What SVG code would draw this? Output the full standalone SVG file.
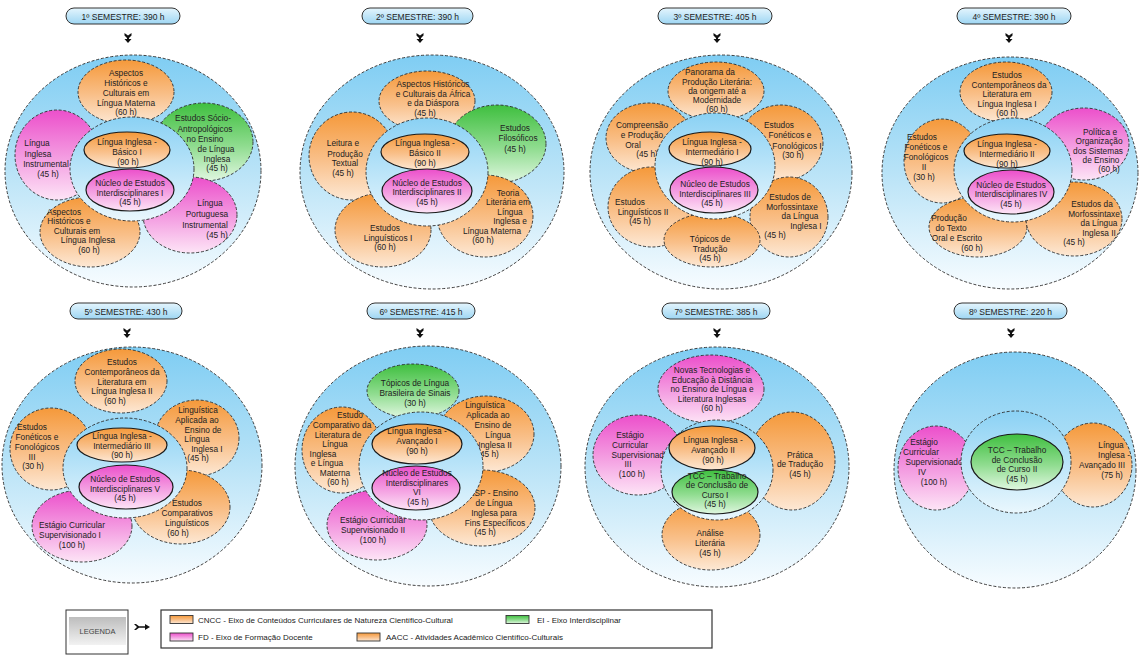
<svg xmlns="http://www.w3.org/2000/svg" xmlns:xlink="http://www.w3.org/1999/xlink" width="1139" height="655" viewBox="0 0 1139 655">
<defs>
<linearGradient id="gBlue" x1="0" y1="0" x2="0" y2="1"><stop offset="0" stop-color="#7fcdf3"/><stop offset="0.5" stop-color="#b9e3f7"/><stop offset="1" stop-color="#f7fcff"/></linearGradient>
<linearGradient id="gRing" x1="0" y1="0" x2="0" y2="1"><stop offset="0" stop-color="#8ad1f4"/><stop offset="1" stop-color="#eaf7fd"/></linearGradient>
<linearGradient id="gOr" x1="0" y1="0" x2="0" y2="1"><stop offset="0" stop-color="#f5993a"/><stop offset="0.55" stop-color="#f9c08a"/><stop offset="1" stop-color="#fde8d4"/></linearGradient>
<linearGradient id="gPk" x1="0" y1="0" x2="0" y2="1"><stop offset="0" stop-color="#ec4fcb"/><stop offset="0.55" stop-color="#f4a0e2"/><stop offset="1" stop-color="#fde4f6"/></linearGradient>
<linearGradient id="gGr" x1="0" y1="0" x2="0" y2="1"><stop offset="0" stop-color="#3fbf3f"/><stop offset="0.55" stop-color="#8fdc8f"/><stop offset="1" stop-color="#e0f7e0"/></linearGradient>
<linearGradient id="gPill" x1="0" y1="0" x2="0" y2="1"><stop offset="0" stop-color="#e4f5fd"/><stop offset="1" stop-color="#9ed6f3"/></linearGradient>
<linearGradient id="gLeg" x1="0" y1="0" x2="0" y2="1"><stop offset="0" stop-color="#bdbdbd"/><stop offset="1" stop-color="#f2f2f2"/></linearGradient>
<path id="arrDn" d="M-3.5,-5 L0,-2.5 L3.5,-5 L3.5,-2.5 L1,0 L1,1 L3.5,1 L0,5 L-3.5,1 L-1,1 L-1,0 L-3.5,-2.5 Z"/>
<path id="arrRt" d="M-8,-3 L-5,0 L-8,3 L-6,3 L-3,0.8 L3,0.8 L3,3 L8,0 L3,-3 L3,-0.8 L-3,-0.8 L-6,-3 Z"/>
</defs>
<style>
.oc{fill:url(#gBlue);stroke:#2a2a2a;stroke-width:0.9;stroke-dasharray:3 1.8}
.ring{fill:url(#gRing);stroke:#2a2a2a;stroke-width:0.9;stroke-dasharray:3 1.8}
.o{fill:url(#gOr);stroke:#2a2a2a;stroke-width:0.9;stroke-dasharray:3 1.8}
.p{fill:url(#gPk);stroke:#2a2a2a;stroke-width:0.9;stroke-dasharray:3 1.8}
.g{fill:url(#gGr);stroke:#2a2a2a;stroke-width:0.9;stroke-dasharray:3 1.8}
.io{fill:url(#gOr);stroke:#1a1a1a;stroke-width:1.2}
.ip{fill:url(#gPk);stroke:#1a1a1a;stroke-width:1.2}
.ig{fill:url(#gGr);stroke:#1a1a1a;stroke-width:1.2}
.pill{fill:url(#gPill);stroke:#333;stroke-width:1}
text{font-family:"Liberation Sans",Arial,sans-serif;fill:#222}
.t{font-size:8.3px;text-anchor:middle}
.h{font-size:8.5px;text-anchor:middle}
.l{font-size:8px}
.arr{fill:#111}
.sw{stroke:#333;stroke-width:0.9}
</style>
<rect width="1139" height="655" fill="#ffffff"/>

<g id="connectors">
<use xlink:href="#arrDn" class="arr" transform="translate(128,38)"/>
<use xlink:href="#arrDn" class="arr" transform="translate(420,38)"/>
<use xlink:href="#arrDn" class="arr" transform="translate(717,38)"/>
<use xlink:href="#arrDn" class="arr" transform="translate(1009,38)"/>
<use xlink:href="#arrDn" class="arr" transform="translate(127,333)"/>
<use xlink:href="#arrDn" class="arr" transform="translate(420,333)"/>
<use xlink:href="#arrDn" class="arr" transform="translate(717,333)"/>
<use xlink:href="#arrDn" class="arr" transform="translate(1011,333)"/>
<use xlink:href="#arrRt" class="arr" transform="translate(142,627)"/>
</g>

<!-- 1st semester -->
<g id="sem1">
<g id="s1-head"><rect class="pill" x="66" y="8" width="114" height="16" rx="8"/><text class="h" x="123" y="19.5">1º SEMESTRE: 390 h</text></g>
<ellipse id="s1-outer" class="oc" cx="133" cy="171" rx="128" ry="116"/>
<g id="s1-n1"><ellipse class="o" cx="126" cy="92" rx="48" ry="32"/><text class="t"><tspan x="126" y="76">Aspectos</tspan><tspan x="126" y="86">Históricos e</tspan><tspan x="126" y="96">Culturais em</tspan><tspan x="126" y="105.5">Língua Materna</tspan><tspan x="126" y="115">(60 h)</tspan></text></g>
<g id="s1-n2"><ellipse class="p" cx="57" cy="155" rx="42" ry="45"/><text class="t"><tspan x="37" y="146">Língua</tspan><tspan x="38" y="157">Inglesa</tspan><tspan x="46" y="167">Instrumental</tspan><tspan x="48" y="177">(45 h)</tspan></text></g>
<g id="s1-n3"><ellipse class="g" cx="204" cy="142" rx="49" ry="39"/><text class="t"><tspan x="203" y="121">Estudos Sócio-</tspan><tspan x="205" y="132">Antropológicos</tspan><tspan x="205" y="142">no Ensino</tspan><tspan x="216" y="152">de Língua</tspan><tspan x="217" y="161.5">Inglesa</tspan><tspan x="217" y="171">(45 h)</tspan></text></g>
<g id="s1-n4"><ellipse class="o" cx="90" cy="232" rx="50" ry="35"/><text class="t"><tspan x="64" y="215">Aspectos</tspan><tspan x="69" y="224">Históricos e</tspan><tspan x="77" y="233.5">Culturais em</tspan><tspan x="88" y="243">Língua Inglesa</tspan><tspan x="89" y="252.5">(60 h)</tspan></text></g>
<g id="s1-n5"><ellipse class="p" cx="190" cy="215" rx="47" ry="38"/><text class="t"><tspan x="210" y="206">Língua</tspan><tspan x="207" y="217">Portuguesa</tspan><tspan x="205" y="228">Instrumental</tspan><tspan x="217" y="238">(45 h)</tspan></text></g>
<ellipse id="s1-ring" class="ring" cx="132" cy="169" rx="62" ry="52"/>
<g id="s1-c1"><ellipse class="io" cx="127" cy="150" rx="43" ry="18"/><text class="t"><tspan x="127" y="145">Língua Inglesa -</tspan><tspan x="127" y="155">Básico I</tspan><tspan x="128" y="165">(90 h)</tspan></text></g>
<g id="s1-c2"><ellipse class="ip" cx="130" cy="190" rx="44" ry="21"/><text class="t"><tspan x="130" y="186">Núcleo de Estudos</tspan><tspan x="130" y="195.5">Interdisciplinares I</tspan><tspan x="130" y="205">(45 h)</tspan></text></g>
</g>

<!-- 2nd semester -->
<g id="sem2">
<g id="s2-head"><rect class="pill" x="362" y="8" width="111" height="16" rx="8"/><text class="h" x="417.5" y="19.5">2º SEMESTRE: 390 h</text></g>
<ellipse id="s2-outer" class="oc" cx="432" cy="172" rx="132" ry="117"/>
<g id="s2-n1"><ellipse class="o" cx="427" cy="101" rx="48" ry="30"/><text class="t"><tspan x="433" y="87">Aspectos Históricos</tspan><tspan x="433" y="96.5">e Culturais da África</tspan><tspan x="433" y="106">e da Diáspora</tspan><tspan x="425" y="116">(45 h)</tspan></text></g>
<g id="s2-n2"><ellipse class="g" cx="497" cy="144" rx="49" ry="39"/><text class="t"><tspan x="515" y="131">Estudos</tspan><tspan x="518" y="141">Filosóficos</tspan><tspan x="515" y="152">(45 h)</tspan></text></g>
<g id="s2-n3"><ellipse class="o" cx="352" cy="156" rx="43" ry="44"/><text class="t"><tspan x="343" y="146">Leitura e</tspan><tspan x="345" y="157">Produção</tspan><tspan x="345" y="166">Textual</tspan><tspan x="343" y="176">(45 h)</tspan></text></g>
<g id="s2-n4"><ellipse class="o" cx="383" cy="230" rx="48" ry="37"/><text class="t"><tspan x="385" y="231">Estudos</tspan><tspan x="388" y="240.5">Linguísticos I</tspan><tspan x="385" y="250">(60 h)</tspan></text></g>
<g id="s2-n5"><ellipse class="o" cx="485" cy="216" rx="48" ry="41"/><text class="t"><tspan x="508" y="196">Teoria</tspan><tspan x="508" y="205">Literária em</tspan><tspan x="510" y="215">Língua</tspan><tspan x="510" y="224">Inglesa e</tspan><tspan x="492" y="233.5">Língua Materna</tspan><tspan x="483" y="243">(60 h)</tspan></text></g>
<ellipse id="s2-ring" class="ring" cx="427" cy="172" rx="61" ry="54"/>
<g id="s2-c1"><ellipse class="io" cx="425" cy="152" rx="44" ry="18"/><text class="t"><tspan x="425" y="146">Língua Inglesa -</tspan><tspan x="425" y="156">Básico II</tspan><tspan x="425" y="165.5">(90 h)</tspan></text></g>
<g id="s2-c2"><ellipse class="ip" cx="427" cy="191" rx="45" ry="22"/><text class="t"><tspan x="427" y="186">Núcleo de Estudos</tspan><tspan x="427" y="195">Interdisciplinares II</tspan><tspan x="427" y="204.5">(45 h)</tspan></text></g>
</g>

<!-- 3rd semester -->
<g id="sem3">
<g id="s3-head"><rect class="pill" x="658" y="8" width="114" height="16" rx="8"/><text class="h" x="715" y="19.5">3º SEMESTRE: 405 h</text></g>
<ellipse id="s3-outer" class="oc" cx="721" cy="172" rx="131" ry="117"/>
<g id="s3-n1"><ellipse class="o" cx="716" cy="91" rx="48" ry="29"/><text class="t"><tspan x="710" y="75">Panorama da</tspan><tspan x="717" y="84.5">Produção Literária:</tspan><tspan x="717" y="94">da origem até a</tspan><tspan x="717" y="103">Modernidade</tspan><tspan x="717" y="112">(60 h)</tspan></text></g>
<g id="s3-n2"><ellipse class="o" cx="649" cy="138" rx="43" ry="35"/><text class="t"><tspan x="642" y="128">Compreensão</tspan><tspan x="642" y="138">e Produção</tspan><tspan x="633" y="148">Oral</tspan><tspan x="647" y="157">(45 h)</tspan></text></g>
<g id="s3-n3"><ellipse class="o" cx="781" cy="143" rx="42" ry="38"/><text class="t"><tspan x="779" y="128">Estudos</tspan><tspan x="790" y="138">Fonéticos e</tspan><tspan x="797" y="148.5">Fonológicos I</tspan><tspan x="793" y="158">(30 h)</tspan></text></g>
<g id="s3-n4"><ellipse class="o" cx="652" cy="207" rx="44" ry="40"/><text class="t"><tspan x="630" y="205">Estudos</tspan><tspan x="643" y="215">Linguísticos II</tspan><tspan x="640" y="224">(45 h)</tspan></text></g>
<g id="s3-n5"><ellipse class="o" cx="789" cy="217" rx="39" ry="40"/><text class="t"><tspan x="790" y="200">Estudos de</tspan><tspan x="792" y="210">Morfossintaxe</tspan><tspan x="800" y="219">da Língua</tspan><tspan x="806" y="229">Inglesa I</tspan><tspan x="775" y="238">(45 h)</tspan></text></g>
<g id="s3-n6"><ellipse class="o" cx="712" cy="240" rx="48" ry="27"/><text class="t"><tspan x="710" y="242">Tópicos de</tspan><tspan x="710" y="252">Tradução</tspan><tspan x="710" y="261">(45 h)</tspan></text></g>
<ellipse id="s3-ring" class="ring" cx="715" cy="166" rx="60" ry="53"/>
<g id="s3-c1"><ellipse class="io" cx="710" cy="149" rx="41" ry="17"/><text class="t"><tspan x="712" y="145">Língua Inglesa -</tspan><tspan x="712" y="155">Intermediário I</tspan><tspan x="712" y="164.5">(90 h)</tspan></text></g>
<g id="s3-c2"><ellipse class="ip" cx="714" cy="190" rx="44" ry="23"/><text class="t"><tspan x="715" y="187">Núcleo de Estudos</tspan><tspan x="715" y="196.5">Interdisciplinares III</tspan><tspan x="712" y="206">(45 h)</tspan></text></g>
</g>

<!-- 4th semester -->
<g id="sem4">
<g id="s4-head"><rect class="pill" x="957" y="8" width="114" height="16" rx="8"/><text class="h" x="1014" y="19.5">4º SEMESTRE: 390 h</text></g>
<ellipse id="s4-outer" class="oc" cx="1010" cy="173" rx="128" ry="116"/>
<g id="s4-n1"><ellipse class="o" cx="1006" cy="92" rx="46" ry="30"/><text class="t"><tspan x="1007" y="78">Estudos</tspan><tspan x="1009" y="88">Contemporâneos da</tspan><tspan x="1007" y="97">Literatura em</tspan><tspan x="1007" y="106.5">Língua Inglesa I</tspan><tspan x="1007" y="115.5">(60 h)</tspan></text></g>
<g id="s4-n2"><ellipse class="p" cx="1084" cy="144" rx="45" ry="36"/><text class="t"><tspan x="1100" y="135">Política e</tspan><tspan x="1099" y="144">Organização</tspan><tspan x="1098" y="154">dos Sistemas</tspan><tspan x="1101" y="163">de Ensino</tspan><tspan x="1109" y="172">(60 h)</tspan></text></g>
<g id="s4-n3"><ellipse class="o" cx="942" cy="161" rx="38" ry="42"/><text class="t"><tspan x="922" y="140">Estudos</tspan><tspan x="926" y="150">Fonéticos e</tspan><tspan x="926" y="160">Fonológicos</tspan><tspan x="924" y="170">II</tspan><tspan x="924" y="180">(30 h)</tspan></text></g>
<g id="s4-n4"><ellipse class="o" cx="978" cy="227" rx="49" ry="30"/><text class="t"><tspan x="949" y="221">Produção</tspan><tspan x="951" y="231">do Texto</tspan><tspan x="957" y="241">Oral e Escrito</tspan><tspan x="972" y="251">(60 h)</tspan></text></g>
<g id="s4-n5"><ellipse class="o" cx="1074" cy="219" rx="48" ry="37"/><text class="t"><tspan x="1092" y="207">Estudos da</tspan><tspan x="1094" y="216.5">Morfossintaxe</tspan><tspan x="1099" y="226">da Língua</tspan><tspan x="1099" y="236">Inglesa II</tspan><tspan x="1074" y="245">(45 h)</tspan></text></g>
<ellipse id="s4-ring" class="ring" cx="1013" cy="170" rx="59" ry="52"/>
<g id="s4-c1"><ellipse class="io" cx="1007" cy="151" rx="43" ry="17"/><text class="t"><tspan x="1007" y="147">Língua Inglesa -</tspan><tspan x="1007" y="157">Intermediário II</tspan><tspan x="1007" y="166.5">(90 h)</tspan></text></g>
<g id="s4-c2"><ellipse class="ip" cx="1011" cy="192" rx="43" ry="22"/><text class="t"><tspan x="1011" y="188">Núcleo de Estudos</tspan><tspan x="1011" y="197">Interdisciplinares IV</tspan><tspan x="1011" y="206.5">(45 h)</tspan></text></g>
</g>

<!-- 5th semester -->
<g id="sem5">
<g id="s5-head"><rect class="pill" x="70" y="303" width="112" height="16" rx="8"/><text class="h" x="126" y="314.5">5º SEMESTRE: 430 h</text></g>
<ellipse id="s5-outer" class="oc" cx="132" cy="465" rx="130" ry="118"/>
<g id="s5-n1"><ellipse class="o" cx="121" cy="381" rx="46" ry="32"/><text class="t"><tspan x="122" y="365">Estudos</tspan><tspan x="122" y="375">Contemporâneos da</tspan><tspan x="122" y="384.5">Literatura em</tspan><tspan x="122" y="394">Língua Inglesa II</tspan><tspan x="115" y="403.5">(60 h)</tspan></text></g>
<g id="s5-n2"><ellipse class="o" cx="51" cy="449" rx="41" ry="41"/><text class="t"><tspan x="32" y="430">Estudos</tspan><tspan x="37" y="440">Fonéticos e</tspan><tspan x="37" y="450">Fonológicos</tspan><tspan x="32" y="459.5">III</tspan><tspan x="33" y="469">(30 h)</tspan></text></g>
<g id="s5-n3"><ellipse class="o" cx="197" cy="438" rx="42" ry="38"/><text class="t"><tspan x="198" y="413">Linguística</tspan><tspan x="197" y="423">Aplicada ao</tspan><tspan x="203" y="432.5">Ensino de</tspan><tspan x="197" y="442">Língua</tspan><tspan x="207" y="451.5">Inglesa I</tspan><tspan x="198" y="461">(45 h)</tspan></text></g>
<g id="s5-n4"><ellipse class="p" cx="82" cy="526" rx="50" ry="36"/><text class="t"><tspan x="72" y="528">Estágio Curricular</tspan><tspan x="70" y="538">Supervisionado I</tspan><tspan x="72" y="548">(100 h)</tspan></text></g>
<g id="s5-n5"><ellipse class="o" cx="181" cy="507" rx="49" ry="37"/><text class="t"><tspan x="187" y="506">Estudos</tspan><tspan x="187" y="516">Comparativos</tspan><tspan x="187" y="526">Linguísticos</tspan><tspan x="178" y="536">(60 h)</tspan></text></g>
<ellipse id="s5-ring" class="ring" cx="125" cy="468" rx="62" ry="50"/>
<g id="s5-c1"><ellipse class="io" cx="122" cy="445" rx="45" ry="17"/><text class="t"><tspan x="122" y="439">Língua Inglesa -</tspan><tspan x="122" y="448.5">Intermediário III</tspan><tspan x="122" y="458">(90 h)</tspan></text></g>
<g id="s5-c2"><ellipse class="ip" cx="126" cy="487" rx="47" ry="22"/><text class="t"><tspan x="125" y="482">Núcleo de Estudos</tspan><tspan x="125" y="491.5">Interdisciplinares V</tspan><tspan x="125" y="501">(45 h)</tspan></text></g>
</g>

<!-- 6th semester -->
<g id="sem6">
<g id="s6-head"><rect class="pill" x="367" y="303" width="108" height="16" rx="8"/><text class="h" x="421" y="314.5">6º SEMESTRE: 415 h</text></g>
<ellipse id="s6-outer" class="oc" cx="428" cy="466" rx="133" ry="120"/>
<g id="s6-n1"><ellipse class="g" cx="413" cy="391" rx="46" ry="27"/><text class="t"><tspan x="415" y="386">Tópicos de Língua</tspan><tspan x="415" y="395.5">Brasileira de Sinais</tspan><tspan x="415" y="406">(30 h)</tspan></text></g>
<g id="s6-n2"><ellipse class="o" cx="342" cy="450" rx="40" ry="43"/><text class="t"><tspan x="350" y="418">Estudo</tspan><tspan x="342" y="428">Comparativo da</tspan><tspan x="338" y="437.5">Literatura de</tspan><tspan x="335" y="447">Língua</tspan><tspan x="323" y="456.5">Inglesa</tspan><tspan x="327" y="466">e Língua</tspan><tspan x="335" y="475.5">Materna</tspan><tspan x="338" y="485">(60 h)</tspan></text></g>
<g id="s6-n3"><ellipse class="o" cx="486" cy="434" rx="48" ry="38"/><text class="t"><tspan x="485" y="408">Linguística</tspan><tspan x="488" y="418">Aplicada ao</tspan><tspan x="493" y="428">Ensino de</tspan><tspan x="498" y="438">Língua</tspan><tspan x="495" y="448">Inglesa II</tspan><tspan x="488" y="457">(45 h)</tspan></text></g>
<g id="s6-n4"><ellipse class="p" cx="377" cy="525" rx="50" ry="35"/><text class="t"><tspan x="373" y="523">Estágio Curricular</tspan><tspan x="373" y="533">Supervisionado II</tspan><tspan x="373" y="543">(100 h)</tspan></text></g>
<g id="s6-n5"><ellipse class="o" cx="482" cy="508" rx="53" ry="38"/><text class="t"><tspan x="494" y="496">LSP - Ensino</tspan><tspan x="494" y="506">de Língua</tspan><tspan x="494" y="516">Inglesa para</tspan><tspan x="495" y="525.5">Fins Específicos</tspan><tspan x="485" y="535">(45 h)</tspan></text></g>
<ellipse id="s6-ring" class="ring" cx="421" cy="466" rx="62" ry="54"/>
<g id="s6-c1"><ellipse class="io" cx="417" cy="444" rx="45" ry="20"/><text class="t"><tspan x="417" y="434">Língua Inglesa -</tspan><tspan x="417" y="444">Avançado I</tspan><tspan x="417" y="454">(90 h)</tspan></text></g>
<g id="s6-c2"><ellipse class="ip" cx="416" cy="488" rx="44" ry="22"/><text class="t"><tspan x="417" y="476">Núcleo de Estudos</tspan><tspan x="417" y="485.5">Interdisciplinares</tspan><tspan x="417" y="495">VI</tspan><tspan x="418" y="504.5">(45 h)</tspan></text></g>
</g>

<!-- 7th semester -->
<g id="sem7">
<g id="s7-head"><rect class="pill" x="662" y="303" width="108" height="16" rx="8"/><text class="h" x="716" y="314.5">7º SEMESTRE: 385 h</text></g>
<ellipse id="s7-outer" class="oc" cx="717" cy="467" rx="132" ry="120"/>
<g id="s7-n1"><ellipse class="p" cx="711" cy="389" rx="53" ry="34"/><text class="t"><tspan x="712" y="373">Novas Tecnologias e</tspan><tspan x="712" y="382.5">Educação à Distância</tspan><tspan x="712" y="392">no Ensino de Língua e</tspan><tspan x="712" y="401.5">Literatura Inglesas</tspan><tspan x="712" y="411">(60 h)</tspan></text></g>
<g id="s7-n2"><ellipse class="p" cx="638" cy="455" rx="45" ry="40"/><text class="t"><tspan x="630" y="438">Estágio</tspan><tspan x="630" y="447.5">Curricular</tspan><tspan x="640" y="458">Supervisionado</tspan><tspan x="628" y="467">III</tspan><tspan x="632" y="476.5">(100 h)</tspan></text></g>
<g id="s7-n3"><ellipse class="o" cx="792" cy="461" rx="43" ry="49"/><text class="t"><tspan x="800" y="458">Prática</tspan><tspan x="800" y="467">de Tradução</tspan><tspan x="800" y="476.5">(45 h)</tspan></text></g>
<g id="s7-n4"><ellipse class="o" cx="711" cy="535" rx="49" ry="35"/><text class="t"><tspan x="710" y="536">Análise</tspan><tspan x="710" y="546">Literária</tspan><tspan x="710" y="555.5">(45 h)</tspan></text></g>
<ellipse id="s7-ring" class="ring" cx="717" cy="470" rx="56" ry="50"/>
<g id="s7-c1"><ellipse class="io" cx="712" cy="448" rx="43" ry="22"/><text class="t"><tspan x="713" y="443">Língua Inglesa -</tspan><tspan x="713" y="453">Avançado II</tspan><tspan x="713" y="463">(90 h)</tspan></text></g>
<g id="s7-c2"><ellipse class="ig" cx="715" cy="492" rx="43" ry="22"/><text class="t"><tspan x="717" y="478.5">TCC – Trabalho</tspan><tspan x="717" y="488">de Conclusão de</tspan><tspan x="715" y="497.5">Curso I</tspan><tspan x="715" y="507">(45 h)</tspan></text></g>
</g>

<!-- 8th semester -->
<g id="sem8">
<g id="s8-head"><rect class="pill" x="954" y="303" width="113" height="16" rx="8"/><text class="h" x="1010.5" y="314.5">8º SEMESTRE: 220 h</text></g>
<ellipse id="s8-outer" class="oc" cx="1015" cy="470" rx="121" ry="118"/>
<g id="s8-n1"><ellipse class="p" cx="936" cy="468" rx="38" ry="42"/><text class="t"><tspan x="924" y="445">Estágio</tspan><tspan x="921" y="454.5">Curricular</tspan><tspan x="934" y="465">Supervisionado</tspan><tspan x="922" y="475">IV</tspan><tspan x="934" y="485">(100 h)</tspan></text></g>
<g id="s8-n2"><ellipse class="o" cx="1093" cy="465" rx="39" ry="42"/><text class="t"><tspan x="1111" y="448">Língua</tspan><tspan x="1114" y="458">Inglesa -</tspan><tspan x="1102" y="468">Avançado III</tspan><tspan x="1112" y="478">(75 h)</tspan></text></g>
<ellipse id="s8-ring" class="ring" cx="1016" cy="462" rx="55" ry="51"/>
<g id="s8-c1"><ellipse class="ig" cx="1017" cy="462" rx="46" ry="28"/><text class="t"><tspan x="1017" y="453">TCC – Trabalho</tspan><tspan x="1017" y="462.5">de Conclusão</tspan><tspan x="1017" y="472">de Curso  II</tspan><tspan x="1017" y="481.5">(45 h)</tspan></text></g>
</g>

<!-- legend -->
<g id="legend">
<g id="legend-label"><rect x="66" y="610" width="62" height="44" fill="#fff" stroke="#333" stroke-width="1"/><rect x="69" y="617" width="57" height="28" fill="url(#gLeg)"/><text class="l" x="97.5" y="634" text-anchor="middle" style="font-size:7.5px;fill:#444">LEGENDA</text></g>
<g id="legend-box"><rect x="161" y="610" width="551" height="38" fill="#fff" stroke="#333" stroke-width="1.2"/>
<rect class="sw" x="170" y="615.5" width="23" height="8" fill="url(#gOr)"/><text class="l" x="198" y="622.5">CNCC - Eixo de Conteúdos Curriculares de Natureza Científico-Cultural</text>
<rect class="sw" x="506" y="615.5" width="23" height="8" fill="url(#gGr)"/><text class="l" x="537" y="622.5">EI - Eixo Interdisciplinar</text>
<rect class="sw" x="170" y="633" width="23" height="8" fill="url(#gPk)"/><text class="l" x="198" y="640">FD - Eixo de Formação Docente</text>
<rect class="sw" x="357" y="633" width="23" height="8" fill="url(#gOr)"/><text class="l" x="386" y="640">AACC - Atividades Acadêmico Científico-Culturais</text>
</g>
</g>
</svg>
